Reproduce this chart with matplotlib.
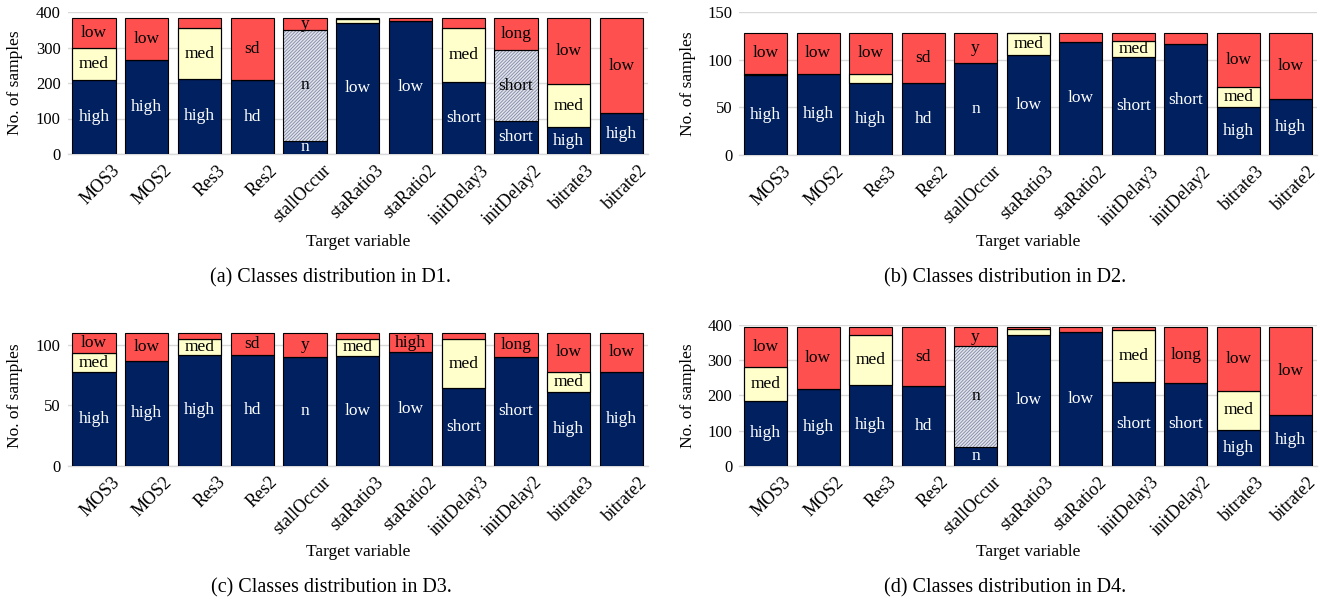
import matplotlib
matplotlib.use("Agg")
import matplotlib.pyplot as plt
import matplotlib.transforms as mtransforms

plt.rcParams['font.family'] = ['Liberation Serif', 'DejaVu Serif']
plt.rcParams['hatch.linewidth'] = 0.6

categories = ['MOS3', 'MOS2', 'Res3', 'Res2', 'stallOccur', 'staRatio3',
              'staRatio2', 'initDelay3', 'initDelay2', 'bitrate3', 'bitrate2']

# ---- D1 ----
d1_bottom = [208, 265, 212, 208, 37, 370, 375, 204, 93, 76, 115]
d1_middle = [90, 0, 142, 0, 312, 10, 0, 150, 199, 120, 0]
d1_top = [84, 117, 28, 174, 33, 2, 7, 28, 90, 186, 267]
d1_hatch = [False, False, False, False, True, False, False, False, True, False, False]
d1_bottom_lbl = ['high', 'high', 'high', 'hd', 'n', 'low', 'low', 'short', 'short', 'high', 'high']
d1_middle_lbl = ['med', '', 'med', '', 'n', '', '', 'med', 'short', 'med', '']
d1_top_lbl = ['low', 'low', '', 'sd', 'y', '', '', '', 'long', 'low', 'low']

# ---- D2 ----
d2_bottom = [84, 85, 76, 76, 96, 105, 119, 103, 116, 50, 59]
d2_middle = [1, 0, 9, 0, 0, 23, 0, 17, 0, 21, 0]
d2_top = [43, 43, 43, 52, 32, 0, 9, 8, 12, 57, 69]
d2_hatch = [False] * 11
d2_bottom_lbl = ['high', 'high', 'high', 'hd', 'n', 'low', 'low', 'short', 'short', 'high', 'high']
d2_middle_lbl = ['', '', '', '', '', 'med', '', 'med', '', 'med', '']
d2_top_lbl = ['low', 'low', 'low', 'sd', 'y', '', '', '', '', 'low', 'low']

# ---- D3 ----
d3_bottom = [78, 87, 92, 92, 90, 91, 94, 64, 90, 61, 78]
d3_middle = [15, 0, 13, 0, 0, 14, 0, 41, 0, 17, 0]
d3_top = [17, 23, 5, 18, 20, 5, 16, 5, 20, 32, 32]
d3_hatch = [False] * 11
d3_bottom_lbl = ['high', 'high', 'high', 'hd', 'n', 'low', 'low', 'short', 'short', 'high', 'high']
d3_middle_lbl = ['med', '', 'med', '', '', 'med', '', 'med', '', 'med', '']
d3_top_lbl = ['low', 'low', '', 'sd', 'y', '', 'high', '', 'long', 'low', 'low']

# ---- D4 ----
d4_bottom = [184, 218, 230, 226, 54, 371, 380, 237, 236, 101, 144]
d4_middle = [96, 0, 141, 0, 286, 17, 0, 150, 0, 112, 0]
d4_top = [114, 176, 23, 168, 54, 6, 14, 7, 158, 181, 250]
d4_hatch = [False, False, False, False, True, False, False, False, False, False, False]
d4_bottom_lbl = ['high', 'high', 'high', 'hd', 'n', 'low', 'low', 'short', 'short', 'high', 'high']
d4_middle_lbl = ['med', '', 'med', '', 'n', '', '', 'med', '', 'med', '']
d4_top_lbl = ['low', 'low', '', 'sd', 'y', '', '', '', 'long', 'low', 'low']

captions = ['(a) Classes distribution in D1.', '(b) Classes distribution in D2.',
            '(c) Classes distribution in D3.', '(d) Classes distribution in D4.']

NAVY = '#002060'
YELLOW = '#FFFFCC'
RED = '#FF5050'
HATCH_BG = '#E2E4EC'

W, H = 1321, 602
fig = plt.figure(figsize=(W / 100, H / 100), dpi=100)


def px_rect(x0, y0, x1, y1):
    return [x0 / W, 1 - y1 / H, (x1 - x0) / W, (y1 - y0) / H]


def panel(rect, bottom, middle, top, hatch, bl, ml, tl, ymax, yticks,
          ylabel_x, xlabel_y, cap, cap_x, cap_y):
    ax = fig.add_axes(rect)
    x = list(range(len(categories)))
    width = 0.82
    ax.bar(x, bottom, width, color=NAVY, edgecolor='black', linewidth=0.8, zorder=3)
    mid_colors = [HATCH_BG if h else YELLOW for h in hatch]
    bars_m = ax.bar(x, middle, width, bottom=bottom, color=mid_colors,
                    edgecolor='black', linewidth=0.8, zorder=3)
    for b, h in zip(bars_m, hatch):
        if h:
            b.set_hatch('//////////')
            b.set_edgecolor('#8088A4')
            b.set_linewidth(0)
    ax.bar(x, middle, width, bottom=bottom, color='none',
           edgecolor='black', linewidth=0.8, zorder=4)
    base2 = [b + m for b, m in zip(bottom, middle)]
    ax.bar(x, top, width, bottom=base2, color=RED, edgecolor='black',
           linewidth=0.8, zorder=3)
    fs = 12.5
    for i in x:
        if bl[i]:
            ax.text(i, bottom[i] / 2, bl[i], ha='center', va='center',
                    color='white', fontsize=fs, zorder=5)
        if ml[i]:
            ax.text(i, bottom[i] + middle[i] / 2, ml[i], ha='center', va='center',
                    color='black', fontsize=fs, zorder=5)
        if tl[i]:
            ax.text(i, base2[i] + top[i] / 2, tl[i], ha='center', va='center',
                    color='black', fontsize=fs, zorder=5)
    ax.set_xlim(-0.5, len(categories) - 0.5)
    ax.set_ylim(0, ymax)
    ax.set_yticks(yticks)
    ax.tick_params(axis='y', length=0, labelsize=12, pad=5)
    ax.tick_params(axis='x', length=0, labelsize=13)
    ax.set_xticks(x)
    offset = mtransforms.ScaledTranslation(17 / 100, -3 / 100, fig.dpi_scale_trans)
    ax.set_xticklabels(categories, rotation=45, ha='right', va='top',
                       rotation_mode='anchor')
    for lab in ax.get_xticklabels():
        lab.set_transform(lab.get_transform() + offset)
    ax.grid(axis='y', color='#D9D9D9', linewidth=1, zorder=0)
    ax.set_axisbelow(True)
    for s in ['top', 'right', 'left']:
        ax.spines[s].set_visible(False)
    ax.spines['bottom'].set_color('#D9D9D9')
    ax.spines['bottom'].set_linewidth(1)
    fig.text(ylabel_x / W, (rect[1] + rect[3] / 2), 'No. of samples',
             rotation=90, ha='center', va='center', fontsize=12.5)
    fig.text((rect[0] + rect[2] / 2), 1 - xlabel_y / H, 'Target variable',
             ha='center', va='center', fontsize=12.5)
    fig.text(cap_x / W, 1 - cap_y / H, cap, ha='center', va='center', fontsize=14.5)
    return ax


panel(px_rect(67.7, 12, 648, 154), d1_bottom, d1_middle, d1_top, d1_hatch,
      d1_bottom_lbl, d1_middle_lbl, d1_top_lbl, 400, [0, 100, 200, 300, 400],
      15, 242, captions[0], 331, 278)
panel(px_rect(739.3, 12, 1317, 155), d2_bottom, d2_middle, d2_top, d2_hatch,
      d2_bottom_lbl, d2_middle_lbl, d2_top_lbl, 150, [0, 50, 100, 150],
      688, 242, captions[1], 1005, 278)
panel(px_rect(67.7, 325, 648, 465.7), d3_bottom, d3_middle, d3_top, d3_hatch,
      d3_bottom_lbl, d3_middle_lbl, d3_top_lbl, 116.6, [0, 50, 100],
      15, 552, captions[2], 331, 588)
panel(px_rect(739.3, 325, 1317, 465.7), d4_bottom, d4_middle, d4_top, d4_hatch,
      d4_bottom_lbl, d4_middle_lbl, d4_top_lbl, 400, [0, 100, 200, 300, 400],
      688, 552, captions[3], 1005, 588)

fig.savefig('out.png', dpi=100)
